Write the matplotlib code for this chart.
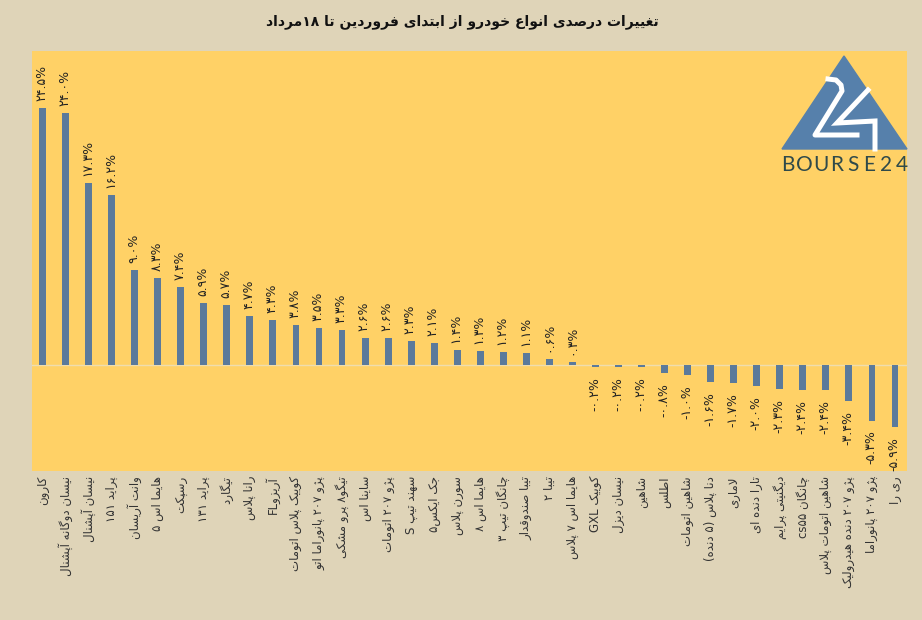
"""
Percent change of car prices, bar chart with Persian labels
"""

import re
import matplotlib
import matplotlib.pyplot as plt
from matplotlib.patches import Polygon, Rectangle
from matplotlib.transforms import Affine2D
matplotlib.use("AGG")

title = "تغییرات درصدی انواع خودرو از ابتدای فروردین تا ۱۸مرداد"

cars = [
    "کارون", "نیسان دوگانه آپشنال", "نیسان آپشنال", "پراید ۱۵۱", "وانت آریسان",
    "هایما اس ۵", "رسپکت", "پراید ۱۳۱", "تیگارد", "رانا پلاس", "آریزوFL",
    "کوییک پلاس اتومات", "پژو ۲۰۷ پانوراما اتو", "تیگو۸ پرو مشکی", "ساینا اس",
    "پژو ۲۰۷ اتومات", "سهند تیپ S", "جک ایکس۵", "سورن پلاس", "هایما اس ۸",
    "چانگان تیپ ۳", "تیبا صندوقدار", "تیبا ۲", "هایما اس ۷ پلاس", "کوییک GXL",
    "نیسان دیزل", "شاهین", "اطلس", "شاهین اتومات", "دنا پلاس (۵ دنده)", "لاماری",
    "تارا دنده ای", "دیگنیتی پرایم", "چانگان cs۵۵", "شاهین اتومات پلاس",
    "پژو ۲۰۷ دنده هیدرولیک", "پژو ۲۰۷ پانوراما", "ری را",
]
changes = [
    24.5, 24.0, 17.3, 16.2, 9.0, 8.3, 7.4, 5.9, 5.7, 4.7, 4.3, 3.8, 3.5, 3.3,
    2.6, 2.6, 2.3, 2.1, 1.4, 1.3, 1.2, 1.1, 0.6, 0.3, -0.2, -0.2, -0.2, -0.8,
    -1.0, -1.6, -1.7, -2.0, -2.3, -2.4, -2.4, -3.4, -5.3, -5.9,
]

# presentation forms: isolated, final, initial, medial
forms = {
    "ا": (0xFE8D, 0xFE8E), "آ": (0xFE81, 0xFE82), "د": (0xFEA9, 0xFEAA),
    "ر": (0xFEAD, 0xFEAE), "ز": (0xFEAF, 0xFEB0), "ژ": (0xFB8A, 0xFB8B),
    "و": (0xFEED, 0xFEEE),
    "ب": (0xFE8F, 0xFE90, 0xFE91, 0xFE92), "پ": (0xFB56, 0xFB57, 0xFB58, 0xFB59),
    "ت": (0xFE95, 0xFE96, 0xFE97, 0xFE98), "ج": (0xFE9D, 0xFE9E, 0xFE9F, 0xFEA0),
    "چ": (0xFB7A, 0xFB7B, 0xFB7C, 0xFB7D), "خ": (0xFEA5, 0xFEA6, 0xFEA7, 0xFEA8),
    "س": (0xFEB1, 0xFEB2, 0xFEB3, 0xFEB4), "ش": (0xFEB5, 0xFEB6, 0xFEB7, 0xFEB8),
    "ص": (0xFEB9, 0xFEBA, 0xFEBB, 0xFEBC), "ط": (0xFEC1, 0xFEC2, 0xFEC3, 0xFEC4),
    "ع": (0xFEC9, 0xFECA, 0xFECB, 0xFECC), "غ": (0xFECD, 0xFECE, 0xFECF, 0xFED0),
    "ف": (0xFED1, 0xFED2, 0xFED3, 0xFED4), "ق": (0xFED5, 0xFED6, 0xFED7, 0xFED8),
    "ک": (0xFB8E, 0xFB8F, 0xFB90, 0xFB91), "گ": (0xFB92, 0xFB93, 0xFB94, 0xFB95),
    "ل": (0xFEDD, 0xFEDE, 0xFEDF, 0xFEE0), "م": (0xFEE1, 0xFEE2, 0xFEE3, 0xFEE4),
    "ن": (0xFEE5, 0xFEE6, 0xFEE7, 0xFEE8), "ه": (0xFEE9, 0xFEEA, 0xFEEB, 0xFEEC),
    "ی": (0xFBFC, 0xFBFD, 0xFBFE, 0xFBFF),
}


def shape(text):
    # matplotlib has no bidi or joining, so do both by hand
    out = []
    i = 0
    prev_joins = False
    while i < len(text):
        ch = text[i]
        nxt = text[i + 1] if i + 1 < len(text) else ""
        if ch == "ل" and nxt == "ا":
            out.append(chr(0xFEFC if prev_joins else 0xFEFB))
            prev_joins = False
            i += 2
            continue
        if ch not in forms:
            out.append(ch)
            prev_joins = False
            i += 1
            continue
        f = forms[ch]
        next_ok = nxt in forms and len(f) == 4
        if prev_joins and next_ok:
            out.append(chr(f[3]))
        elif prev_joins:
            out.append(chr(f[1]))
        elif next_ok:
            out.append(chr(f[2]))
        else:
            out.append(chr(f[0]))
        prev_joins = len(f) == 4
        i += 1
    visual = "".join(out)[::-1]
    visual = visual.translate(str.maketrans("()", ")("))
    # digits and latin stay left to right
    return re.sub(r"[0-9A-Za-z۰-۹]+", lambda m: m.group(0)[::-1], visual)


def fa_percent(v):
    return "{:.1f}%".format(v).translate(str.maketrans("0123456789", "۰۱۲۳۴۵۶۷۸۹"))


bg = "#DFD4B8"
yellow = "#FFD166"
blue = "#5B7A9B"
x = list(range(len(cars)))

fig = plt.figure(figsize=(9.22, 6.20), dpi=100, facecolor=bg)
ax = fig.add_axes([32 / 922, 1 - 471 / 620, 875 / 922, 420 / 620], facecolor=yellow)
ax.bar(x, changes, width=0.3, color=blue, zorder=3)
ax.axhline(0, color="#EFDDAE", lw=1, zorder=2)
ax.set_xlim(-0.456, 37.52)
ax.set_ylim(-10.1, 29.9)
ax.axis("off")
ax.add_patch(Rectangle((0, 0), 1, 1, transform=ax.transAxes, color=yellow, zorder=0))

for xi, v in zip(x, changes):
    ax.annotate(fa_percent(v), (xi, v), xytext=(-1, 7 if v > 0 else -10),
                textcoords="offset pixels", rotation=90, ha="center",
                va="bottom" if v > 0 else "top", fontsize=9, color="#222222")

fig.text(462 / 922, 1 - 22 / 620, shape(title), ha="center", va="center",
         fontsize=10, fontweight="bold", color="#111111")

for xi, name in zip(x, cars):
    px = ax.transData.transform((xi, 0))[0]
    fig.text(px / 922, 1 - 476 / 620, shape(name), rotation=90, ha="center", va="top",
             fontsize=8.5, color="#333333")

# logo, drawn in image pixels
to_fig = Affine2D().scale(1 / 922, -1 / 620).translate(0, 1) + fig.transFigure
fig.add_artist(Polygon([(844, 56), (782, 149), (907, 149)], closed=True, color="#5680AB",
                       transform=to_fig, zorder=5))
fig.add_artist(plt.Line2D([828, 836, 841, 842, 815, 857], [79, 80, 85, 91, 135, 135], color="white",
                          lw=3.6, transform=to_fig, zorder=6, solid_joinstyle="round"))
fig.add_artist(plt.Line2D([868, 837, 875, 875], [90, 123, 121, 149], color="white",
                          lw=3.6, transform=to_fig, zorder=6, solid_joinstyle="miter"))
for i, ch in enumerate("BOURSE24"):
    fig.text((788 + i * 16.3) / 922, 1 - 165 / 620, ch, ha="center", va="center",
             fontsize=15, family="Lato", color="#2F4A4A", zorder=6)

plt.savefig("out.png", dpi=100)
